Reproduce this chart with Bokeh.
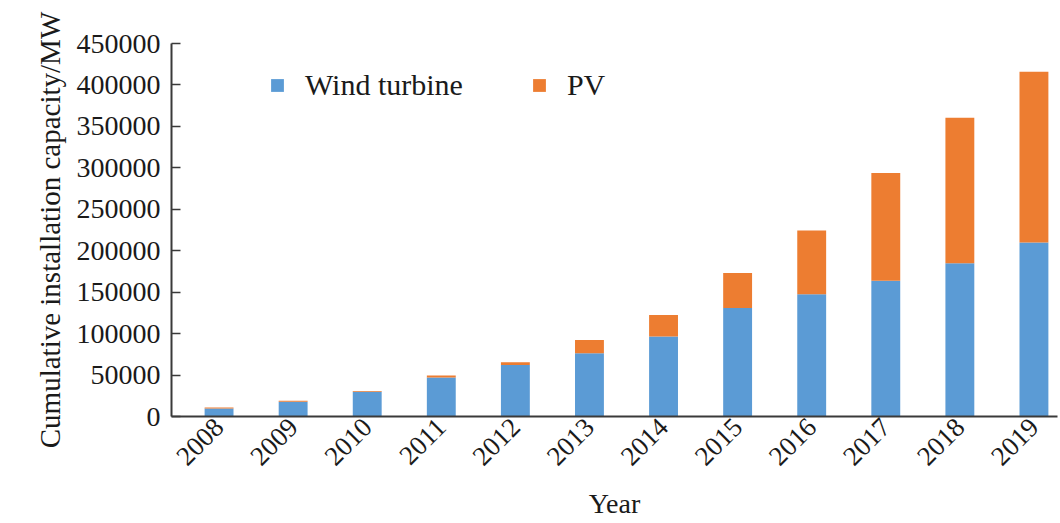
import math
from bokeh.plotting import figure
from bokeh.models import ColumnDataSource, Range1d, FixedTicker, BasicTickFormatter, Legend, LegendItem
from bokeh.embed import file_html
from bokeh.resources import INLINE

years = [2008, 2009, 2010, 2011, 2012, 2013, 2014, 2015, 2016, 2017, 2018, 2019]
wind = [9700, 17800, 29900, 47000, 62000, 76200, 96400, 131000, 147500, 163700, 184800, 210000]
pv = [1200, 1200, 800, 2400, 3300, 16000, 26000, 42000, 77000, 130000, 175500, 206000]
y_ticks = [0, 50000, 100000, 150000, 200000, 250000, 300000, 350000, 400000, 450000]

FONT = "Liberation Serif"
AX = "#3a3a3a"

src = ColumnDataSource(dict(year=years, wind=wind, pv=pv))

p = figure(width=1059, height=522, output_backend="svg", toolbar_location=None,
           x_range=Range1d(years[0] - 0.642, years[-1] + 0.318),
           y_range=Range1d(0, 450000))
p.min_border_left = 171
p.min_border_right = 2
p.min_border_top = 43
p.min_border_bottom = 106
p.outline_line_color = None
p.grid.visible = False
p.background_fill_color = "white"
p.border_fill_color = "white"

r = p.vbar_stack(["wind", "pv"], x="year", width=0.39, source=src,
                 color=["#5B9BD5", "#ED7D31"], line_color=None)

# y axis
ya = p.yaxis[0]
ya.ticker = FixedTicker(ticks=y_ticks)
ya.formatter = BasicTickFormatter(use_scientific=False)
ya.axis_label = "Cumulative installation capacity/MW"
ya.axis_label_text_font = FONT
ya.axis_label_text_font_size = "29px"
ya.axis_label_text_font_style = "normal"
ya.axis_label_text_color = "#1a1a1a"
ya.axis_label_standoff = 8
ya.major_label_text_font = FONT
ya.major_label_text_font_size = "28px"
ya.major_label_text_color = "#1a1a1a"
ya.major_label_standoff = 11
ya.major_tick_in = 9
ya.major_tick_out = 0
ya.minor_tick_in = 0
ya.minor_tick_out = 0
ya.axis_line_color = AX
ya.axis_line_width = 2
ya.major_tick_line_color = AX
ya.major_tick_line_width = 1.5

# x axis
xa = p.xaxis[0]
xa.ticker = FixedTicker(ticks=years)
xa.formatter = BasicTickFormatter(use_scientific=False)
xa.major_label_orientation = math.pi / 4
xa.axis_label = "Year"
xa.axis_label_text_font = FONT
xa.axis_label_text_font_size = "28px"
xa.axis_label_text_font_style = "normal"
xa.axis_label_text_color = "#1a1a1a"
xa.axis_label_standoff = 12
xa.major_label_text_font = FONT
xa.major_label_text_font_size = "27px"
xa.major_label_text_color = "#1a1a1a"
xa.major_label_standoff = 6
xa.major_tick_in = 0
xa.major_tick_out = 0
xa.minor_tick_in = 0
xa.minor_tick_out = 0
xa.axis_line_color = AX
xa.axis_line_width = 2

legend = Legend(items=[LegendItem(label="Wind turbine", renderers=[r[0]]),
                       LegendItem(label="PV", renderers=[r[1]])],
                orientation="horizontal", location=(98, 314))
legend.border_line_color = None
legend.background_fill_alpha = 0
legend.padding = 0
legend.margin = 0
legend.glyph_width = 16
legend.glyph_height = 16
legend.label_standoff = 20
legend.spacing = 68
legend.label_text_font = FONT
legend.label_text_font_size = "30px"
legend.label_text_color = "#1a1a1a"
legend.label_height = 34
p.add_layout(legend, "center")

open("out.html", "w").write(file_html(p, INLINE))
